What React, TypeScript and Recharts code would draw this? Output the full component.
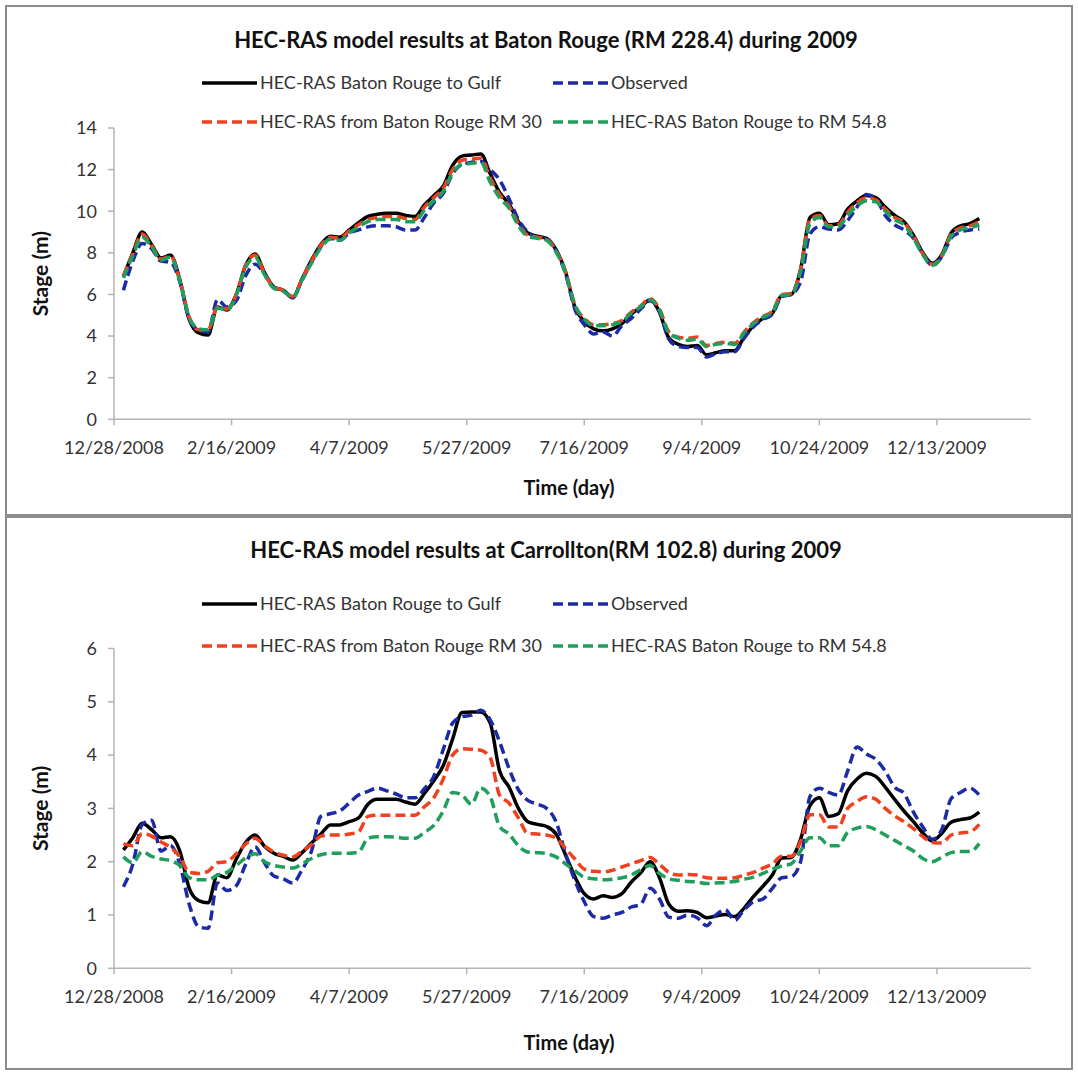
import React from 'react';
import { LineChart, Line, XAxis, YAxis, Legend, Label } from 'recharts';

// Days since 12/28/2008
const days = [
  4, 8, 12, 16, 20, 24, 28, 32, 36, 40,
  44, 48, 52, 56, 60, 64, 68, 72, 76, 80,
  84, 88, 92, 96, 100, 104, 108, 112, 116, 120,
  124, 128, 132, 136, 140, 144, 148, 152, 156, 160,
  164, 168, 172, 176, 180, 184, 188, 192, 196, 200,
  204, 208, 212, 216, 220, 224, 228, 232, 236, 240,
  244, 248, 252, 256, 260, 264, 268, 272, 276, 280,
  284, 288, 292, 296, 300, 304, 308, 312, 316, 320,
  324, 328, 332, 336, 340, 344, 348, 352, 356, 360,
  364, 368,
];

const xTicks = [0, 50, 100, 150, 200, 250, 300, 350];
const xTickLabels = ['12/28/2008', '2/16/2009', '4/7/2009', '5/27/2009', '7/16/2009', '9/4/2009', '10/24/2009', '12/13/2009'];

const seriesNames = {
  gulf: 'HEC-RAS Baton Rouge to Gulf',
  obs: 'Observed',
  rm30: 'HEC-RAS from Baton Rouge RM 30',
  rm548: 'HEC-RAS Baton Rouge to RM 54.8',
};

// ---- Baton Rouge (RM 228.4) ----
const brGulf = [
  6.85, 8.0, 9.0, 8.4, 7.75, 7.9, 6.7, 4.8, 4.15, 4.05,
  5.4, 5.25, 6.0, 7.4, 7.95, 7.05, 6.35, 6.2, 5.85, 6.75,
  7.65, 8.4, 8.8, 8.75, 9.1, 9.45, 9.75, 9.85, 9.9, 9.9,
  9.8, 9.75, 10.3, 10.75, 11.2, 12.2, 12.65, 12.7, 12.75, 11.8,
  10.9, 10.35, 9.5, 8.95, 8.8, 8.7, 8.15, 7.1, 5.4, 4.7,
  4.35, 4.25, 4.35, 4.6, 5.05, 5.4, 5.75, 5.15, 3.9, 3.6,
  3.5, 3.55, 3.1, 3.2, 3.3, 3.3, 3.95, 4.5, 4.85, 5.1,
  5.95, 6.0, 7.2, 9.7, 9.9, 9.35, 9.4, 10.1, 10.5, 10.75,
  10.65, 10.2, 9.8, 9.5, 8.85, 8.0, 7.5, 7.9, 8.95, 9.3,
  9.4, 9.65,
];
const brObs = [
  6.2, 7.6, 8.45, 8.2, 7.6, 7.55, 6.6, 4.8, 4.3, 4.2,
  5.75, 5.4, 5.7, 6.9, 7.45, 7.0, 6.35, 6.2, 5.85, 6.7,
  7.55, 8.3, 8.7, 8.6, 8.95, 9.1, 9.25, 9.3, 9.3, 9.25,
  9.1, 9.1, 9.7, 10.4, 10.85, 11.8, 12.25, 12.35, 12.4, 12.0,
  11.5, 10.6, 9.6, 9.0, 8.75, 8.65, 8.1, 7.0, 5.3, 4.55,
  4.1, 4.2, 4.0, 4.5, 4.85, 5.3, 5.7, 5.2, 3.85, 3.5,
  3.45, 3.45, 3.0, 3.15, 3.25, 3.25, 3.9, 4.45, 4.8, 5.05,
  5.9, 6.0, 6.6, 8.9, 9.25, 9.15, 9.1, 9.55, 10.2, 10.8,
  10.6, 9.8, 9.35, 9.1, 8.7, 7.95, 7.4, 7.8, 8.7, 9.0,
  9.1, 9.15,
];
const brRm30 = [
  6.9, 7.95, 8.9, 8.35, 7.7, 7.85, 6.7, 4.9, 4.3, 4.3,
  5.4, 5.3, 6.0, 7.4, 7.9, 7.0, 6.35, 6.2, 5.9, 6.75,
  7.6, 8.35, 8.75, 8.7, 9.05, 9.35, 9.6, 9.7, 9.75, 9.75,
  9.65, 9.6, 10.2, 10.65, 11.1, 12.0, 12.45, 12.5, 12.55, 11.6,
  10.8, 10.25, 9.4, 8.85, 8.75, 8.65, 8.1, 7.1, 5.5, 4.85,
  4.55, 4.55, 4.6, 4.75, 5.15, 5.45, 5.8, 5.3, 4.2, 3.95,
  3.9, 3.95, 3.55, 3.65, 3.7, 3.65, 4.2, 4.65, 4.95, 5.2,
  6.0, 6.05, 7.2, 9.6, 9.8, 9.3, 9.35, 9.95, 10.4, 10.65,
  10.55, 10.1, 9.7, 9.45, 8.8, 7.95, 7.45, 7.85, 8.9, 9.2,
  9.3, 9.5,
];
const brRm548 = [
  6.8, 7.85, 8.75, 8.3, 7.65, 7.8, 6.65, 4.9, 4.35, 4.3,
  5.35, 5.25, 5.95, 7.3, 7.8, 6.95, 6.3, 6.15, 5.85, 6.7,
  7.5, 8.25, 8.65, 8.6, 8.95, 9.25, 9.5, 9.6, 9.6, 9.6,
  9.5, 9.5, 10.05, 10.5, 10.95, 11.85, 12.25, 12.3, 12.35, 11.4,
  10.65, 10.15, 9.3, 8.8, 8.7, 8.6, 8.05, 7.05, 5.5, 4.8,
  4.5, 4.5, 4.55, 4.7, 5.1, 5.4, 5.75, 5.25, 4.15, 3.9,
  3.8, 3.85, 3.5, 3.6, 3.65, 3.6, 4.15, 4.6, 4.9, 5.15,
  5.95, 6.0, 7.1, 9.4, 9.7, 9.25, 9.25, 9.8, 10.25, 10.5,
  10.45, 10.0, 9.6, 9.35, 8.7, 7.9, 7.4, 7.8, 8.8, 9.1,
  9.2, 9.35,
];

// ---- Carrollton (RM 102.8) ----
const caGulf = [
  2.22, 2.45, 2.72, 2.6, 2.45, 2.47, 2.2, 1.5, 1.27, 1.23,
  1.75, 1.7, 2.05, 2.36, 2.5, 2.29, 2.16, 2.1, 2.03, 2.17,
  2.35, 2.52, 2.69, 2.69, 2.75, 2.82, 3.08, 3.17, 3.17, 3.17,
  3.12, 3.08, 3.28, 3.52, 3.8, 4.3, 4.8, 4.81, 4.81, 4.6,
  3.7, 3.4, 3.0, 2.75, 2.7, 2.66, 2.52, 2.13, 1.72, 1.4,
  1.3, 1.36, 1.33, 1.4, 1.62, 1.79, 2.0, 1.7, 1.2, 1.07,
  1.08, 1.05, 0.95, 0.98, 1.01, 0.97, 1.13, 1.35, 1.54, 1.75,
  2.07, 2.08, 2.42, 3.05, 3.2, 2.85, 2.9, 3.33, 3.55, 3.66,
  3.6, 3.4, 3.17, 2.95, 2.75, 2.54, 2.39, 2.53, 2.74, 2.79,
  2.82, 2.93,
];
const caObs = [
  1.53, 1.95, 2.7, 2.78, 2.2, 2.3, 1.95, 1.2, 0.78, 0.75,
  1.6, 1.46, 1.55, 1.95, 2.28, 1.98, 1.73, 1.68, 1.6, 1.85,
  2.2, 2.85, 2.9, 2.95, 3.1, 3.25, 3.32, 3.38, 3.33, 3.27,
  3.2, 3.2, 3.37, 3.6, 4.1, 4.6, 4.72, 4.75, 4.84, 4.66,
  4.25, 3.75, 3.35, 3.15, 3.08, 3.0, 2.75, 2.15, 1.65, 1.25,
  0.97, 0.94, 1.0, 1.05, 1.15, 1.2, 1.5, 1.3, 0.96, 0.94,
  1.0, 0.95, 0.8, 1.0, 1.1, 0.9, 1.1, 1.25, 1.3, 1.5,
  1.7, 1.72, 2.0, 3.22, 3.38, 3.3, 3.25, 3.7, 4.15, 4.02,
  3.92, 3.7, 3.4, 3.28, 2.93, 2.65, 2.42, 2.6, 3.18, 3.3,
  3.38, 3.25,
];
const caRm30 = [
  2.34, 2.3, 2.53, 2.48, 2.37, 2.27, 2.09, 1.8, 1.78, 1.82,
  1.98, 2.0, 2.15, 2.33, 2.44, 2.3, 2.18, 2.12, 2.09, 2.2,
  2.32, 2.48, 2.5, 2.5, 2.52, 2.56, 2.85, 2.87, 2.87, 2.87,
  2.87, 2.87, 3.03, 3.2, 3.55, 4.0, 4.12, 4.11, 4.09, 3.95,
  3.25, 3.1, 2.82, 2.53, 2.52, 2.5, 2.44, 2.25, 2.05, 1.86,
  1.82, 1.81, 1.84, 1.9, 1.96, 2.02, 2.08, 1.95, 1.8, 1.75,
  1.76, 1.75, 1.7, 1.69, 1.69, 1.7, 1.75, 1.8, 1.88, 1.96,
  2.1, 2.1, 2.38, 2.88, 2.88, 2.65, 2.65, 3.0, 3.13, 3.22,
  3.17, 3.0, 2.86, 2.75, 2.62, 2.47, 2.36, 2.35, 2.5, 2.54,
  2.56, 2.7,
];
const caRm548 = [
  2.09, 1.98, 2.19, 2.1, 2.05, 2.02, 1.93, 1.7, 1.66, 1.66,
  1.75, 1.8, 1.93, 2.07, 2.15, 2.0, 1.93, 1.9, 1.88, 1.96,
  2.06, 2.13, 2.16, 2.16, 2.16, 2.18, 2.44, 2.47, 2.47, 2.46,
  2.44, 2.44, 2.55, 2.68, 2.95, 3.3, 3.25, 3.08, 3.38, 3.22,
  2.66, 2.52, 2.3, 2.18, 2.17, 2.15, 2.09, 1.96, 1.83, 1.71,
  1.68, 1.66, 1.67, 1.7, 1.75, 1.85, 1.93, 1.78, 1.68, 1.65,
  1.63, 1.62, 1.59, 1.6, 1.61, 1.63, 1.67, 1.71, 1.78, 1.86,
  1.92, 1.96, 2.2, 2.45, 2.45, 2.3, 2.3, 2.55, 2.63, 2.66,
  2.6, 2.5, 2.4, 2.3, 2.2, 2.06, 2.0, 2.08, 2.17, 2.19,
  2.19, 2.34,
];

const brYTicks = [0, 2, 4, 6, 8, 10, 12, 14];
const caYTicks = [0, 1, 2, 3, 4, 5, 6];

const styles: Record<string, { color: string; dash?: string; width: number }> = {
  gulf: { color: '#000000', width: 3.5 },
  obs: { color: '#1c2aa6', dash: '10 5', width: 3.5 },
  rm30: { color: '#f0401e', dash: '10 5', width: 3.5 },
  rm548: { color: '#1f9e5c', dash: '10 5', width: 3.5 },
};

const legendPos: Record<string, [number, number]> = {
  gulf: [0, 0],
  obs: [1, 0],
  rm30: [0, 1],
  rm548: [1, 1],
};

const FONT = "Lato, 'Open Sans', sans-serif";
const AXIS_GRAY = '#b4b4b4';
const TEXT = '#333333';

function buildRows(a: number[], b: number[], c: number[], d: number[]) {
  return days.map((day, i) => ({ day, gulf: a[i], obs: b[i], rm30: c[i], rm548: d[i] }));
}

function makeLegend(rowGap: number) {
  return (props: any) => {
    const payload = props.payload || [];
    return (
      <svg width={720} height={90} style={{ overflow: 'visible' }}>
        {payload.map((e: any) => {
          const key = String(e.dataKey);
          const pos = legendPos[key] || [0, 0];
          const st = styles[key];
          const x0 = pos[0] === 0 ? 7 : 358;
          const y = 20 + pos[1] * rowGap;
          return (
            <g key={key}>
              <line x1={x0} x2={x0 + 55} y1={y} y2={y} stroke={st.color} strokeWidth={st.width} strokeDasharray={st.dash} />
              <text x={x0 + 58} y={y} dy="0.35em" fontSize={18} fill={TEXT} fontFamily={FONT}>
                {e.value}
              </text>
            </g>
          );
        })}
      </svg>
    );
  };
}

type ChartProps = {
  title: string;
  rows: any[];
  height: number;
  marginTop: number;
  marginBottom: number;
  yMax: number;
  yTicks: number[];
  legendTop: number;
  legendGap: number;
  titleTop: number;
  xLabelDy: number;
};

function StageChart(p: ChartProps) {
  return (
    <div style={{ position: 'relative', width: 1078, height: p.height }}>
      <div
        style={{
          position: 'absolute',
          left: 46,
          width: 1000,
          top: p.titleTop,
          textAlign: 'center',
          fontFamily: FONT,
          fontWeight: 700,
          fontSize: 22,
          lineHeight: '24px',
          color: '#111',
          zIndex: 2,
        }}
      >
        {p.title}
      </div>
      <LineChart
        width={1078}
        height={p.height}
        data={p.rows}
        margin={{ top: p.marginTop, right: 47, bottom: p.marginBottom, left: 54 }}
        style={{ fontFamily: FONT }}
      >
        <XAxis
          type="number"
          dataKey="day"
          domain={[0, 390]}
          ticks={xTicks}
          interval={0}
          height={30}
          tickFormatter={(v: number) => xTickLabels[xTicks.indexOf(v)] ?? ''}
          axisLine={{ stroke: AXIS_GRAY, strokeWidth: 1.5 }}
          tickLine={{ stroke: AXIS_GRAY, strokeWidth: 1.5 }}
          tickSize={6}
          tickMargin={16}
          tick={{ fill: TEXT, fontSize: 18, fontFamily: FONT }}
        >
          <Label
            content={(lp: any) => {
              const vb = lp.viewBox || { y: 0 };
              return (
                <text x={569} y={vb.y + p.xLabelDy} dy="0.35em" textAnchor="middle" fontSize={20} fontWeight={700} fill="#111" fontFamily={FONT}>
                  Time (day)
                </text>
              );
            }}
          />
        </XAxis>
        <YAxis
          type="number"
          domain={[0, p.yMax]}
          ticks={p.yTicks}
          interval={0}
          width={60}
          axisLine={{ stroke: AXIS_GRAY, strokeWidth: 1.5 }}
          tickLine={{ stroke: AXIS_GRAY, strokeWidth: 1.5 }}
          tickSize={6}
          tickMargin={11}
          tick={{ fill: TEXT, fontSize: 18, fontFamily: FONT }}
        >
          <Label
            content={(lp: any) => {
              const vb = lp.viewBox || { y: 0, height: 0 };
              const cy = vb.y + vb.height / 2;
              return (
                <text x={41} y={cy} dy="0.35em" textAnchor="middle" fontSize={21} fontWeight={700} fill="#111" fontFamily={FONT} transform={`rotate(-90 41 ${cy})`}>
                  Stage (m)
                </text>
              );
            }}
          />
        </YAxis>
        <Legend
          layout="horizontal"
          verticalAlign="middle"
          align="center"
          width={720}
          height={90}
          wrapperStyle={{ top: p.legendTop, left: 195, width: 720, height: 90 }}
          content={makeLegend(p.legendGap)}
        />
        {(['gulf', 'obs', 'rm30', 'rm548'] as const).map((k) => (
          <Line
            key={k}
            type="monotone"
            dataKey={k}
            name={seriesNames[k]}
            stroke={styles[k].color}
            strokeWidth={styles[k].width}
            strokeDasharray={styles[k].dash}
            dot={false}
            activeDot={false}
            isAnimationActive={false}
          />
        ))}
      </LineChart>
    </div>
  );
}

export default function App() {
  const panel = (top: number, height: number): React.CSSProperties => ({
    position: 'absolute',
    left: 5,
    top,
    width: 1068,
    height,
    border: '2px solid #8c8c8c',
    boxSizing: 'border-box',
    background: '#ffffff',
  });
  return (
    <div style={{ position: 'absolute', left: 0, top: 0, width: 1078, height: 1072, background: '#ffffff', overflow: 'hidden', fontFamily: FONT }}>
      <div style={panel(5, 511)} />
      <div style={panel(516, 554)} />
      <div style={{ position: 'absolute', left: 0, top: 0 }}>
        <StageChart
          title="HEC-RAS model results at Baton Rouge (RM 228.4) during 2009"
          rows={buildRows(brGulf, brObs, brRm30, brRm548)}
          height={516}
          marginTop={128}
          marginBottom={66.7}
          yMax={14}
          yTicks={brYTicks}
          legendTop={63}
          legendGap={39}
          titleTop={28}
          xLabelDy={69}
        />
      </div>
      <div style={{ position: 'absolute', left: 0, top: 516 }}>
        <StageChart
          title="HEC-RAS model results at Carrollton(RM 102.8) during 2009"
          rows={buildRows(caGulf, caObs, caRm30, caRm548)}
          height={556}
          marginTop={132.5}
          marginBottom={73.7}
          yMax={6}
          yTicks={caYTicks}
          legendTop={68}
          legendGap={42}
          titleTop={22}
          xLabelDy={75}
        />
      </div>
    </div>
  );
}
